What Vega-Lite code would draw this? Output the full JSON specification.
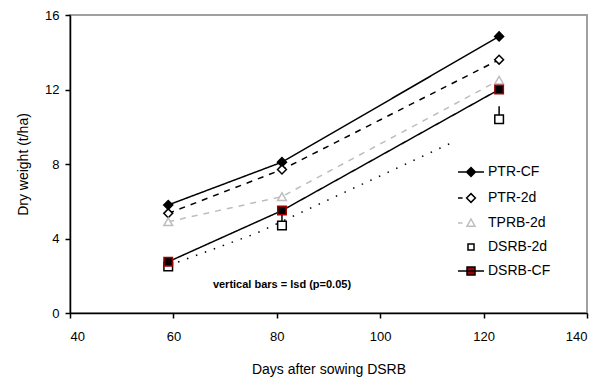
{
  "$schema": "https://vega.github.io/schema/vega-lite/v6.json",
  "width": 517,
  "height": 298,
  "autosize": "none",
  "padding": {"left": 70, "top": 15, "right": 20, "bottom": 68},
  "background": "white",
  "config": {
    "font": "Liberation Sans",
    "view": {"stroke": "#a0a0a0", "strokeWidth": 2},
    "legend": {
      "title": null, "orient": "none", "legendX": 394, "legendY": 150, "padding": 0, "symbolSize": 64,
      "symbolStrokeWidth": 1.5,
      "labelFontSize": 14, "labelFont": "Liberation Sans", "labelColor": "#000", "labelOffset": 10, "rowPadding": 10
    },
    "axis": {
      "grid": false,
      "domainColor": "#000",
      "domainWidth": 1.5,
      "tickColor": "#000",
      "tickWidth": 1.5,
      "tickSize": 5,
      "labelColor": "#000",
      "labelFont": "Liberation Sans",
      "labelFontSize": 13,
      "titleColor": "#000",
      "titleFont": "Liberation Sans",
      "titleFontSize": 14,
      "titleFontWeight": "normal"
    }
  },
  "data": {
    "values": [
      {"series": "PTR-CF", "day": 59, "dw": 5.8},
      {"series": "PTR-CF", "day": 81, "dw": 8.1},
      {"series": "PTR-CF", "day": 123, "dw": 14.85},
      {"series": "PTR-2d", "day": 59, "dw": 5.35},
      {"series": "PTR-2d", "day": 81, "dw": 7.7},
      {"series": "PTR-2d", "day": 123, "dw": 13.6},
      {"series": "TPRB-2d", "day": 59, "dw": 4.9},
      {"series": "TPRB-2d", "day": 81, "dw": 6.25},
      {"series": "TPRB-2d", "day": 123, "dw": 12.5},
      {"series": "DSRB-2d", "day": 59, "dw": 2.5},
      {"series": "DSRB-2d", "day": 81, "dw": 4.7},
      {"series": "DSRB-2d", "day": 123, "dw": 10.4},
      {"series": "DSRB-CF", "day": 59, "dw": 2.75},
      {"series": "DSRB-CF", "day": 81, "dw": 5.5},
      {"series": "DSRB-CF", "day": 123, "dw": 12.0}
    ]
  },
  "resolve": {"scale": {"shape": "independent", "fill": "independent", "stroke": "independent", "size": "independent"}},
  "layer": [
    {
      "data": {"values": [
        {"day": 60.9, "dw": 2.74},
        {"day": 75.8, "dw": 4.25},
        {"day": 113.5, "dw": 9.1}
      ]},
      "mark": {"type": "line", "color": "#000", "strokeWidth": 1.5, "strokeDash": [1.5, 8]},
      "encoding": {
        "x": {"field": "day", "type": "quantitative"},
        "y": {"field": "dw", "type": "quantitative"}
      }
    },
    {
      "transform": [{"filter": "datum.series !== 'DSRB-2d'"}],
      "mark": {"type": "line", "strokeWidth": 1.5},
      "encoding": {
        "x": {
          "field": "day", "type": "quantitative",
          "scale": {"domain": [40, 140], "nice": false, "zero": false},
          "axis": {"values": [40, 60, 80, 100, 120, 140], "labelPadding": 12, "title": "Days after sowing DSRB", "titlePadding": 19}
        },
        "y": {
          "field": "dw", "type": "quantitative",
          "scale": {"domain": [0, 16], "nice": false},
          "axis": {"values": [0, 2, 4, 6, 8, 10, 12, 14, 16], "labelExpr": "datum.value % 4 === 0 ? datum.label : ''", "labelPadding": 6, "title": "Dry weight (t/ha)", "titlePadding": 14}
        },
        "color": {
          "field": "series", "type": "nominal",
          "scale": {"domain": ["PTR-CF", "PTR-2d", "TPRB-2d", "DSRB-CF"], "range": ["#000000", "#000000", "#bdbdbd", "#000000"]},
          "legend": null
        },
        "strokeDash": {
          "field": "series", "type": "nominal",
          "scale": {"domain": ["PTR-CF", "PTR-2d", "TPRB-2d", "DSRB-CF"], "range": [[1, 0], [6, 6], [6, 6], [1, 0]]},
          "legend": null
        }
      }
    },
    {
      "data": {"values": [
        {"day": 81, "lo": 4.7, "hi": 5.35},
        {"day": 123, "lo": 10.4, "hi": 11.1}
      ]},
      "mark": {"type": "rule", "color": "#000", "strokeWidth": 1.5},
      "encoding": {
        "x": {"field": "day", "type": "quantitative"},
        "y": {"field": "lo", "type": "quantitative"},
        "y2": {"field": "hi"}
      }
    },
    {
      "mark": {"type": "point", "filled": true, "strokeWidth": 1.5, "opacity": 1},
      "encoding": {
        "x": {"field": "day", "type": "quantitative"},
        "y": {"field": "dw", "type": "quantitative"},
        "shape": {
          "field": "series", "type": "nominal",
          "scale": {"domain": ["PTR-CF", "PTR-2d", "TPRB-2d", "DSRB-2d", "DSRB-CF"], "range": ["diamond", "diamond", "triangle-up", "square", "square"]},
          "legend": null
        },
        "size": {
          "field": "series", "type": "nominal",
          "scale": {"domain": ["PTR-CF", "PTR-2d", "TPRB-2d", "DSRB-2d", "DSRB-CF"], "range": [81, 72, 55, 36, 64]},
          "legend": null
        },
        "fill": {
          "field": "series", "type": "nominal",
          "scale": {"domain": ["PTR-CF", "PTR-2d", "TPRB-2d", "DSRB-2d", "DSRB-CF"], "range": ["#000000", "#ffffff", "#ffffff", "#ffffff", "#000000"]},
          "legend": null
        },
        "stroke": {
          "field": "series", "type": "nominal",
          "scale": {"domain": ["PTR-CF", "PTR-2d", "TPRB-2d", "DSRB-2d", "DSRB-CF"], "range": ["#000000", "#000000", "#bdbdbd", "#000000", "#a00000"]},
          "legend": null
        }
      }
    },
    {
      "mark": {"type": "point", "filled": true, "size": 0, "strokeWidth": 1.5, "opacity": 1},
      "encoding": {
        "x": {"field": "day", "type": "quantitative"},
        "y": {"field": "dw", "type": "quantitative"},
        "shape": {
          "field": "series", "type": "nominal",
          "scale": {"domain": ["PTR-CF", "PTR-2d", "TPRB-2d", "DSRB-2d", "DSRB-CF"], "range": ["M-3.25,0H3.25M0,-1.1L1.1,0L0,1.1L-1.1,0Z", "M-3.25,0H-2.1M0,-1.1L1.1,0L0,1.1L-1.1,0Z", "M-3.25,0H-2.1M0,-1L1,0.8H-1Z", "M-0.75,-0.75H0.75V0.75H-0.75Z", "M-3.25,0H3.25M-1,-1H1V1H-1Z"]}
        },
        "fill": {
          "field": "series", "type": "nominal",
          "scale": {"domain": ["PTR-CF", "PTR-2d", "TPRB-2d", "DSRB-2d", "DSRB-CF"], "range": ["#000000", "#ffffff", "#ffffff", "#ffffff", "#a00000"]}
        },
        "stroke": {
          "field": "series", "type": "nominal",
          "scale": {"domain": ["PTR-CF", "PTR-2d", "TPRB-2d", "DSRB-2d", "DSRB-CF"], "range": ["#000000", "#000000", "#bdbdbd", "#000000", "#000000"]}
        }
      }
    },
    {
      "data": {"values": [
        {"day": 81, "dw": 1.5, "label": "vertical bars = lsd (p=0.05)"}
      ]},
      "mark": {"type": "text", "font": "Liberation Sans", "fontSize": 11, "fontWeight": "bold", "color": "#000", "align": "center", "baseline": "middle"},
      "encoding": {
        "x": {"field": "day", "type": "quantitative"},
        "y": {"field": "dw", "type": "quantitative"},
        "text": {"field": "label"}
      }
    }
  ]
}
